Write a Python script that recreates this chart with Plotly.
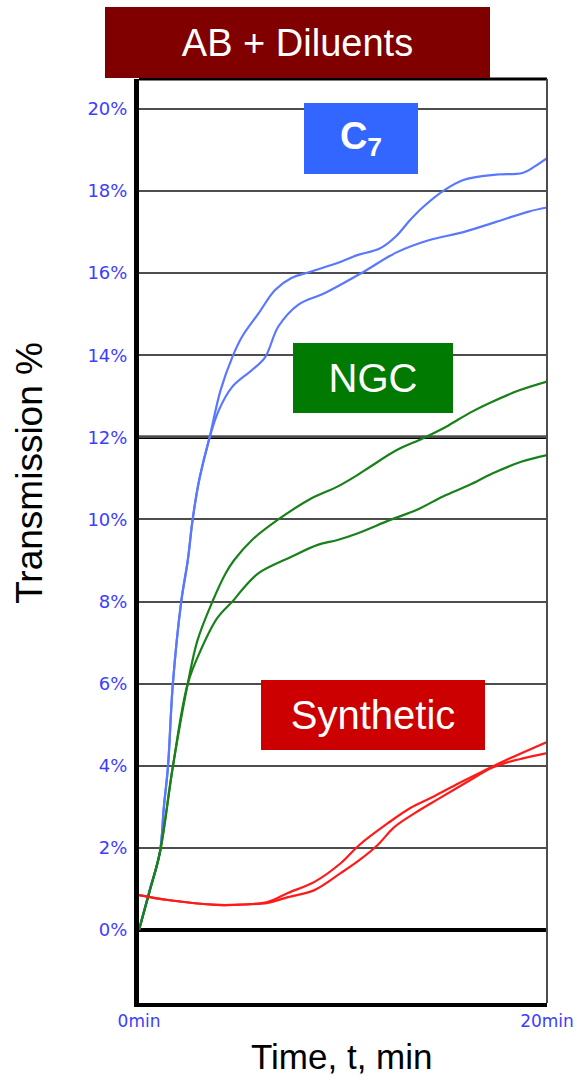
import plotly.graph_objects as go

# ---------------- data ----------------
t_c7_a = [0, 0.5, 1.02, 1.22, 1.42, 1.66, 2.07, 2.39, 2.63, 2.95, 3.44, 4.0, 4.57, 5.05, 5.86,
          6.67, 7.47, 8.44, 9.9, 10.7, 11.8, 12.6, 13.3, 13.9, 14.9, 15.9, 17.5, 18.8, 19.4, 20]
v_c7_a = [0, 0.93, 1.88, 3.0, 3.98, 6.0, 8.0, 9.0, 10.0, 10.96, 11.96, 13.15, 13.95, 14.45, 15.02,
          15.59, 15.88, 16.04, 16.28, 16.44, 16.6, 16.9, 17.3, 17.6, 18.0, 18.27, 18.4, 18.44, 18.6, 18.8]

t_c7_b = [0, 0.5, 1.02, 1.22, 1.42, 1.66, 2.07, 2.39, 2.63, 2.95, 3.44, 3.92, 4.57, 5.54, 6.18,
          6.83, 7.8, 9.09, 11.0, 12.6, 14.2, 15.9, 17.5, 19.1, 20]
v_c7_b = [0, 0.93, 1.88, 3.0, 3.98, 6.0, 8.0, 9.0, 10.0, 10.96, 11.96, 12.67, 13.23, 13.64, 13.95,
          14.7, 15.23, 15.51, 16.03, 16.5, 16.8, 17.0, 17.25, 17.5, 17.6]

t_ngc_a = [0, 0.5, 1.02, 1.66, 2.39, 2.87, 3.6, 4.25, 4.65, 5.54, 6.83, 8.44, 9.73, 10.7,
           11.35, 12.64, 13.93, 15.06, 16.19, 17.16, 18.61, 20]
v_ngc_a = [0, 0.9, 1.88, 3.98, 6.0, 7.06, 8.0, 8.69, 9.0, 9.5, 10.0, 10.51, 10.8, 11.08,
           11.29, 11.69, 11.98, 12.26, 12.59, 12.83, 13.14, 13.36]

t_ngc_b = [0, 0.5, 1.02, 1.66, 2.39, 3.03, 3.84, 4.65, 5.13, 5.86, 7.47, 8.76, 9.73, 10.7,
           12.32, 13.6, 14.9, 16.19, 17.32, 18.77, 20]
v_ngc_b = [0, 0.9, 1.88, 3.98, 6.0, 6.82, 7.6, 8.04, 8.33, 8.69, 9.09, 9.38, 9.5, 9.66,
           9.99, 10.23, 10.56, 10.84, 11.12, 11.41, 11.57]

t_syn_a = [0, 1.4, 3.8, 5.1, 6.3, 7.3, 8.6, 9.9, 10.8, 12.2, 13.3, 14.4, 15.7, 17.0, 18.0, 20]
v_syn_a = [0.85, 0.73, 0.61, 0.62, 0.68, 0.9, 1.17, 1.63, 2.07, 2.6, 2.97, 3.24, 3.58, 3.9, 4.14, 4.58]

t_syn_b = [0, 1.4, 3.8, 5.1, 6.3, 7.3, 8.6, 9.9, 10.8, 11.7, 12.5, 13.5, 14.7, 16.0, 17.3, 18.1, 20]
v_syn_b = [0.85, 0.73, 0.61, 0.62, 0.66, 0.8, 0.97, 1.39, 1.7, 2.07, 2.5, 2.84, 3.2, 3.58, 3.95, 4.09, 4.31]

y_ticks = [0, 2, 4, 6, 8, 10, 12, 14, 16, 18, 20]
y_tick_text = [f"{v}%" for v in y_ticks]
x_ticks = [0, 20]
x_tick_text = ["0min", "20min"]
bold_grid_levels = [12]

title_text = "AB + Diluents"
x_title = "Time, t, min"
y_title = "Transmission %"

# ---------------- styles ----------------
BLUE = "#5a78ff"
GREEN = "#1a801a"
RED = "#ff1a1a"
TICK_BLUE = "#3d3dff"
FONT = "Liberation Sans, Arial, sans-serif"

fig = go.Figure()

series = [
    (t_c7_a, v_c7_a, BLUE, "C7 a"),
    (t_c7_b, v_c7_b, BLUE, "C7 b"),
    (t_ngc_a, v_ngc_a, GREEN, "NGC a"),
    (t_ngc_b, v_ngc_b, GREEN, "NGC b"),
    (t_syn_a, v_syn_a, RED, "Synthetic a"),
    (t_syn_b, v_syn_b, RED, "Synthetic b"),
]
for tx, vy, col, nm in series:
    fig.add_trace(go.Scatter(
        x=tx, y=vy, mode="lines", name=nm,
        line=dict(color=col, width=2.2, shape="spline", smoothing=1.0),
        showlegend=False, hoverinfo="skip"))

# layout: plot area at x 139..552, y 79..1003 in a 586x1078 page
fig.update_layout(
    width=586, height=1078,
    margin=dict(l=139, r=34, t=79, b=75, pad=0),
    paper_bgcolor="white", plot_bgcolor="white",
    font=dict(family=FONT, color="black"),
    xaxis=dict(
        range=[0, 20], tickmode="array", tickvals=x_ticks, ticktext=x_tick_text,
        showgrid=False, zeroline=False,
        showline=True, linecolor="black", linewidth=4,
        ticks="", ticklabelstandoff=0,
        tickfont=dict(family="DejaVu Sans", size=17, color=TICK_BLUE),
    ),
    yaxis=dict(
        range=[-1.78, 20.73], tickmode="array", tickvals=y_ticks, ticktext=y_tick_text,
        showgrid=True, gridcolor="#4d4d4d", gridwidth=2,
        zeroline=True, zerolinecolor="black", zerolinewidth=3.5,
        showline=True, linecolor="black", linewidth=5,
        ticks="", ticklabelstandoff=3,
        tickfont=dict(family="DejaVu Sans", size=18, color=TICK_BLUE),
    ),
)

shapes = []
for lv in bold_grid_levels:
    shapes.append(dict(type="line", xref="paper", yref="y", x0=0, x1=1, y0=lv, y1=lv,
                       line=dict(color="black", width=3.5), layer="below"))
# top and right frame
shapes.append(dict(type="line", xref="paper", yref="paper", x0=0, x1=1, y0=1, y1=1,
                   line=dict(color="black", width=3), layer="above"))
shapes.append(dict(type="line", xref="paper", yref="paper", x0=1, x1=1, y0=0, y1=1,
                   line=dict(color="#4d4d4d", width=2), layer="above"))
fig.update_layout(shapes=shapes)

def box(text, xp, yp, w, h, bg, size, bold=False):
    return dict(
        text=f"<b>{text}</b>" if bold else text,
        xref="paper", yref="paper", x=xp, y=yp,
        xanchor="center", yanchor="middle",
        width=w, height=h, bgcolor=bg, borderpad=0, borderwidth=0,
        showarrow=False, valign="middle", align="center",
        font=dict(family=FONT, size=size, color="white"))

annotations = [
    box(title_text, 0.3886, 1.0395, 385, 71, "#800000", 38),
    box("C<sub>7</sub>", 0.5448, 0.9356, 114, 71, "#3366ff", 38, bold=True),
    box("NGC", 0.5738, 0.6764, 160, 70, "#007a00", 40),
    box("Synthetic", 0.5738, 0.3122, 224, 70, "#cc0000", 40),
    dict(text=y_title, xref="paper", yref="paper", x=-0.2688, y=0.5741,
         xanchor="center", yanchor="middle", textangle=-90, showarrow=False,
         font=dict(family=FONT, size=37, color="black")),
    dict(text=x_title, xref="paper", yref="paper", x=0.4964, y=-0.0584,
         xanchor="center", yanchor="middle", showarrow=False,
         font=dict(family=FONT, size=35, color="black")),
]
fig.update_layout(annotations=annotations)

fig.write_html("out.html")
